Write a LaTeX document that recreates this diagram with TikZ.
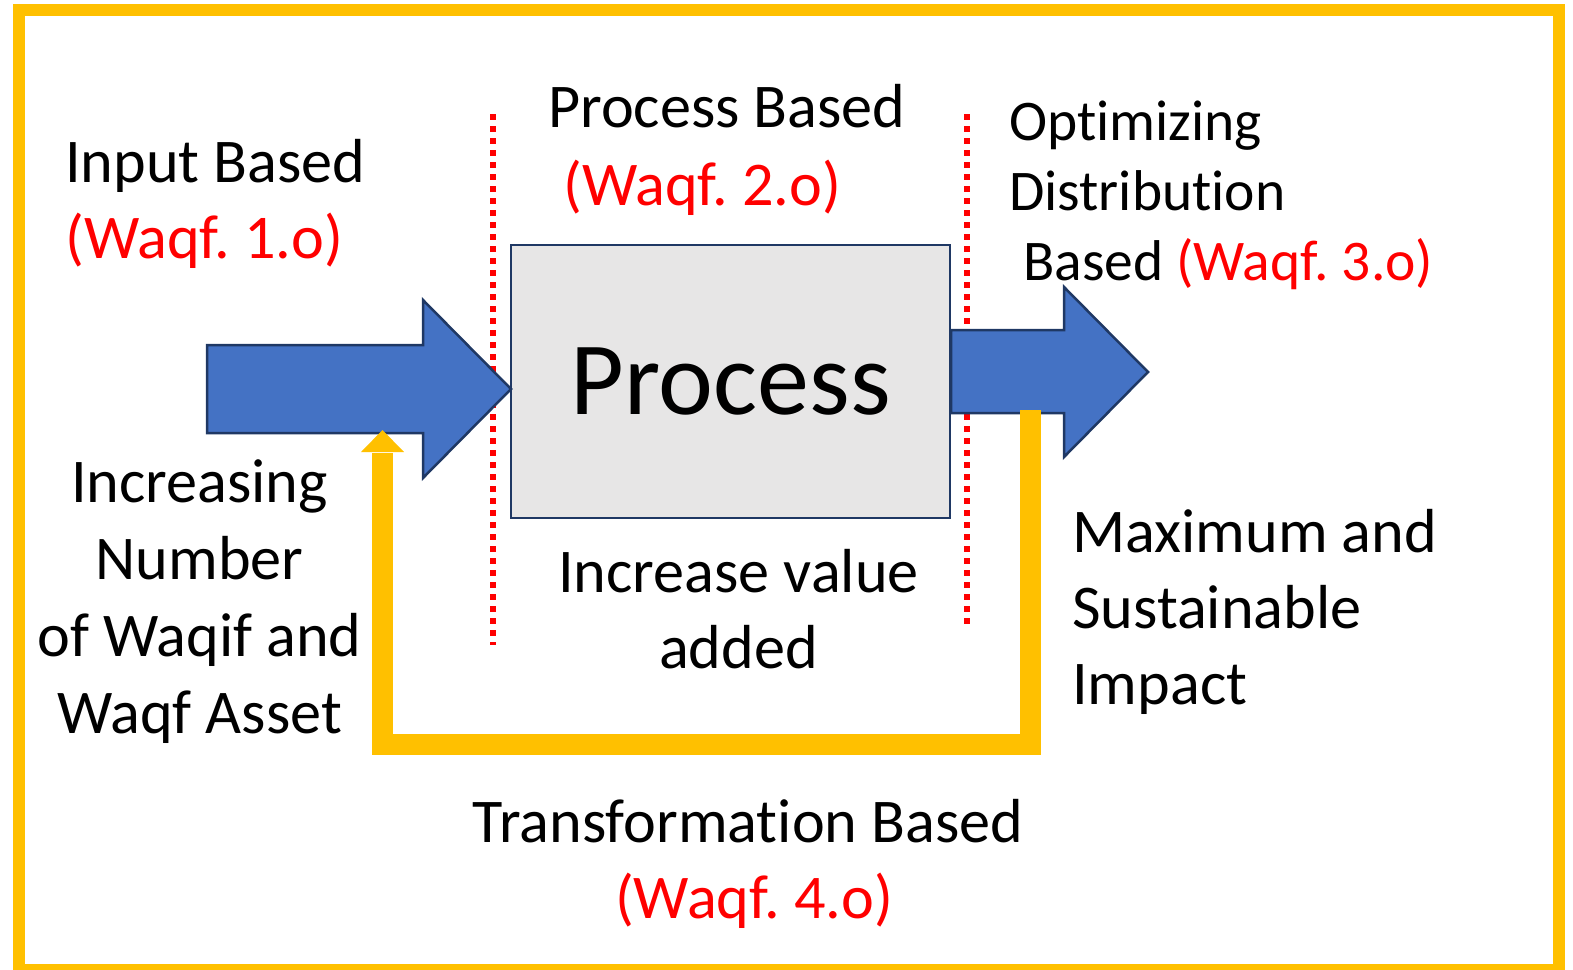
\documentclass[tikz,border=0pt]{standalone}
\usepackage{fontspec}
\setmainfont{Carlito}[Ligatures=NoCommon, RawFeature=-liga, RawFeature=-clig, RawFeature=-calt, RawFeature=-dlig]
\frenchspacing
\definecolor{ablue}{HTML}{4472C4}
\definecolor{aline}{HTML}{1F3864}
\definecolor{agray}{HTML}{E7E6E6}
\definecolor{ayellow}{HTML}{FFC000}
\definecolor{ared}{HTML}{FF0000}
\begin{document}
\begin{tikzpicture}[x=1pt,y=-1pt,
  txt/.style={font=\fontsize{62.2}{76}\selectfont, inner sep=0pt, anchor=base west},
  stxt/.style={txt, font=\fontsize{57.5}{70}\selectfont},
  ctxt/.style={txt, anchor=base},
  wq/.style={text=ared},
  bluearrow/.style={fill=ablue, draw=aline, line width=2.5pt, line join=miter},
  dotline/.style={draw=ared, line width=6pt, dash pattern=on 6pt off 6pt},
  fb/.style={draw=ayellow, line width=21pt, line join=miter},
  procbox/.style={draw=aline, fill=agray, line width=2.5pt, minimum width=439pt, minimum height=273pt, inner sep=0pt, font=\fontsize{104}{120}\selectfont}]
\useasboundingbox (0,0) rectangle (1573,969);
\clip (0,0) rectangle (1573,969);
% outer frame
\draw[ayellow, line width=12pt] (19,10) rectangle (1559,970);
% dotted separators
\draw[dotline] (493,114) -- (493,645);
\draw[dotline] (967,114) -- (967,626);
% process box
\node[procbox] (proc) at (730.5,381.5) {Process};
% input arrow
\draw[bluearrow] (207,345) -- (423,345) -- (423,300) -- (511,389) -- (423,478) -- (423,433) -- (207,433) -- cycle;
% output arrow
\draw[bluearrow] (951,330) -- (1064,330) -- (1064,287) -- (1148,372) -- (1064,457) -- (1064,413) -- (951,413) -- cycle;
% feedback arrow
\coordinate (fbstart) at (1030,410);
\coordinate (fbtip) at (382.5,430);
\draw[fb] (fbstart) |- (382.5,744) -- (382.5,453);
\fill[ayellow] (361,452) -- (404,452) -- (fbtip) -- cycle;
% texts
\node[txt] (t1) at (65,182) {Input Based};
\node[txt, wq] (t1w) at (65,258) {(Waqf. 1.o)};
\node[txt] (t2) at (548,127) {Process Based};
\node[txt, wq] (t2w) at (563,205) {(Waqf. 2.o)};
\node[stxt] (t3a) at (1009,140) {Optimizing};
\node[stxt] (t3b) at (1009,210) {Distribution};
\node[stxt] (t3c) at (1023,280) {Based \textcolor{ared}{(Waqf. 3.o)}};
\node[ctxt] (l1) at (199.5,502) {Increasing};
\node[ctxt] (l2) at (199.5,579) {Number};
\node[ctxt] (l3) at (199.5,656) {of Waqif and};
\node[ctxt] (l4) at (199.5,733) {Waqf Asset};
\node[ctxt] (v1) at (738.5,592) {Increase value};
\node[ctxt] (v2) at (738.5,668) {added};
\node[txt] (m1) at (1072,552) {Maximum and};
\node[txt] (m2) at (1072,628) {Sustainable};
\node[txt] (m3) at (1072,704) {Impact};
\node[ctxt] (t4) at (748,842) {Transformation Based};
\node[ctxt, wq] (t4w) at (754,918) {(Waqf. 4.o)};
\end{tikzpicture}
\end{document}
